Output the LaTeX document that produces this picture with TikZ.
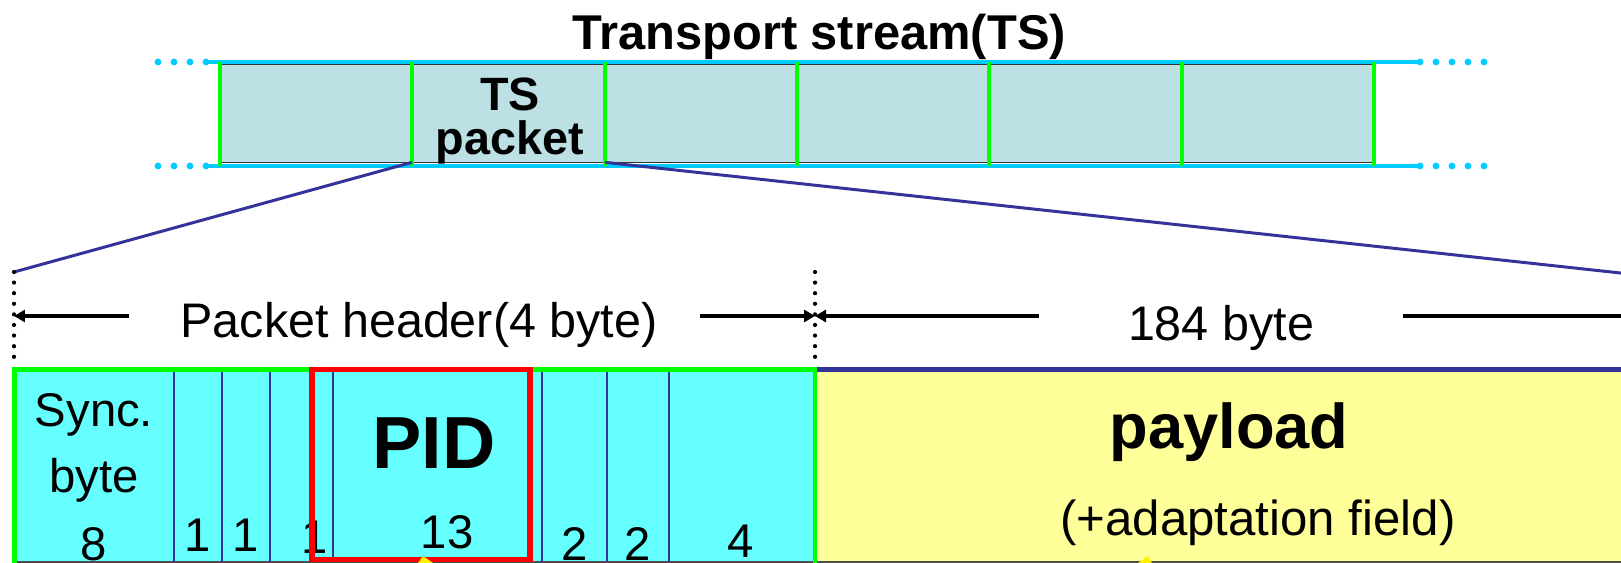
\documentclass[tikz,border=0pt]{standalone}
\usepackage{fontspec}
\setmainfont{Liberation Sans}
\usetikzlibrary{arrows.meta}

\definecolor{tsfill}{RGB}{188,224,228}
\definecolor{tsblue}{RGB}{0,204,255}
\definecolor{navy}{RGB}{51,51,153}
\definecolor{fieldcyan}{RGB}{102,255,255}
\definecolor{payyellow}{RGB}{255,255,153}
\definecolor{brightgreen}{RGB}{0,255,0}

\begin{document}
\begin{tikzpicture}[
    x=0.02cm, y=-0.02cm,
    pktcell/.style={rectangle, fill=tsfill, inner sep=0pt, minimum width=3.846cm, minimum height=1.94cm},
    streamline/.style={tsblue, line width=2.3pt, line cap=round},
    streamdots/.style={tsblue, line width=3.9pt, line cap=round, dash pattern=on 0pt off 0.32cm},
    pktsep/.style={brightgreen, line width=2.1pt},
    zoomline/.style={navy, line width=1.7pt},
    dimdots/.style={black, line width=2.4pt, line cap=round, dash pattern=on 0pt off 0.212cm},
    dimarrow/.style={black, line width=2.6pt, -{Triangle[length=0.22cm, width=0.24cm]}},
    fieldsep/.style={navy, line width=1.1pt},
    grnborder/.style={brightgreen, line width=2.6pt},
    pidframe/.style={red, line width=3.4pt},
    title/.style={font=\bfseries\fontsize{27.8}{30}\selectfont, anchor=base},
    pktlabel/.style={font=\bfseries\fontsize{26.6}{25.5}\selectfont, align=center, anchor=base},
    dimlabel/.style={font=\fontsize{27.6}{30}\selectfont, anchor=base},
    field/.style={font=\fontsize{26.9}{37.4}\selectfont, align=center, anchor=base, inner sep=0pt},
    bigfield/.style={font=\bfseries\fontsize{42}{45}\selectfont, anchor=base, inner sep=0pt},
    payfield/.style={font=\bfseries\fontsize{36}{40}\selectfont, anchor=base, inner sep=0pt},
    adaptfield/.style={font=\fontsize{28}{30}\selectfont, anchor=base, inner sep=0pt}
]
\useasboundingbox (0,0) rectangle (1621,563);
\clip (0,0) rectangle (1621,563);

% Transport stream
\node[title] (tstitle) at (819,50) {Transport stream(TS)};
\foreach \i in {0,...,5}
    \node[pktcell] (cell\i) at ({316.2+192.3*\i},113.5) {};
\draw[black!80, line width=0.5pt] (cell0.north west) -- (cell5.north east);
\draw[black!80, line width=0.5pt] (cell0.south west) -- (cell5.south east);
\draw[streamline] (208,62) -- (1420,62);
\draw[streamline] (208,166) -- (1420,166);
\draw[streamdots] (158,62) -- (206,62);
\draw[streamdots] (158,166) -- (206,166);
\draw[streamdots] (1420,62) -- (1486,62);
\draw[streamdots] (1420,166) -- (1486,166);
\foreach \x in {220,412.3,604.7,797,989.3,1181.7,1374}
    \draw[pktsep] (\x,62) -- (\x,166);
\node[pktlabel] (pktlbl) at (510,155) {TS\\packet};

% Vergroesserung
\coordinate (hdrtop) at (14,272);
\coordinate (hdrbot) at (14,357);
\coordinate (paytop) at (815,272);
\coordinate (paybot) at (815,357);
\coordinate (payend) at (1625,273.5);
\draw[zoomline] (cell1.south west) -- (hdrtop);
\draw[zoomline] (cell1.south east) -- (payend);

% Laengenangaben
\draw[dimdots] (hdrtop) -- (hdrbot);
\draw[dimdots] (paytop) -- (paybot);
\node[dimlabel] (hdrlbl) at (419,338) {Packet header(4 byte)};
\node[dimlabel] (paylbl) at (1221,341) {184 byte};
\coordinate (hdrL) at (129,316);
\coordinate (hdrR) at (700,316);
\coordinate (payL) at (1039,316);
\coordinate (payR) at (1403,316);
\coordinate (edgeR) at (1632,316);
\draw[dimarrow] (hdrL) -- (hdrL -| hdrtop);
\draw[dimarrow] (hdrR) -- (hdrR -| paytop);
\draw[dimarrow] (payL) -- (payL -| paytop);
\draw[dimarrow] (payR) -- (edgeR);

% TS-Paket Felder
\fill[fieldcyan] (14,369) rectangle (815,563);
\fill[payyellow] (815,369) rectangle (1640,563);
\draw[black!70, line width=0.6pt] (14,562) -- (1640,562);
\foreach \x in {174,222,270,333,542,607,669}
    \draw[fieldsep] (\x,371) -- (\x,562);
\draw[navy, line width=2.8pt] (817,369.5) -- (1640,369.5);
\draw[grnborder] (14.5,564) -- (14.5,369.5) -- (815,369.5) -- (815,564);

\node[field] (sync) at (94,492) {Sync.\\byte};
\node[field] (n8) at (94,560) {8};
\node[field] (n1a) at (198,551) {1};
\node[field] (n1b) at (246,551) {1};
\node[field] (n1c) at (315,553) {1};
\node[bigfield] (pid) at (434,468) {PID};
\node[field] (n13) at (447,548) {13};
\node[field] (n2a) at (575,560) {2};
\node[field] (n2b) at (638,560) {2};
\node[field] (n4) at (741,557) {4};
\node[payfield] (pay) at (1229,448) {payload};
\node[adaptfield] (adapt) at (1258,535) {(+adaptation field)};

\draw[pidframe] (312,369.5) rectangle (530,559.5);

% Pfeilspitzen unten
\fill[yellow] (418,563) -- (423,556) -- (433,563) -- cycle;
\fill[yellow] (1138,563) -- (1148,556) -- (1152,563) -- cycle;

\end{tikzpicture}
\end{document}
